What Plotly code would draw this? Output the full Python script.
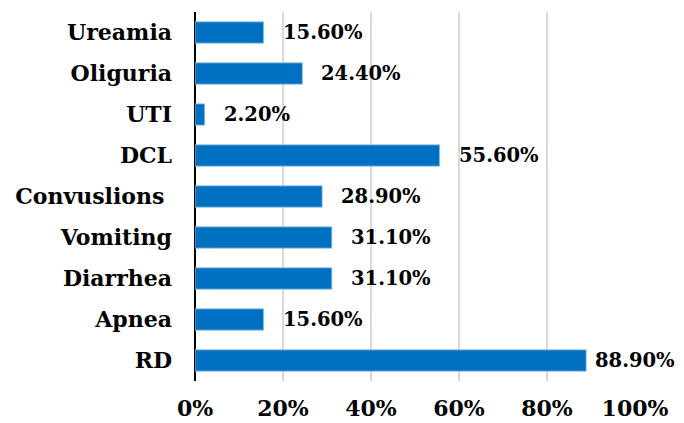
import plotly.graph_objects as go

# Symptoms (top to bottom) and their share of patients
symptoms = ["Ureamia", "Oliguria", "UTI", "DCL", "Convuslions ", "Vomiting", "Diarrhea", "Apnea", "RD"]
shares = [0.156, 0.244, 0.022, 0.556, 0.289, 0.311, 0.311, 0.156, 0.889]
tick_vals = [0, 0.2, 0.4, 0.6, 0.8, 1.0]
tick_text = ["0%", "20%", "40%", "60%", "80%", "100%"]

FONT = "DejaVu Serif"

fig = go.Figure()
fig.add_trace(go.Bar(
    x=shares, y=symptoms, orientation="h",
    marker=dict(color="#0070C0", line=dict(color="#9DC3E6", width=0.8)),
    width=0.52,
))

# value labels to the right of each bar (long bar label sits closer so it fits)
for s, v in zip(symptoms, shares):
    fig.add_annotation(x=v, y=s, text=f"{v * 100:.2f}%", showarrow=False,
                       xanchor="left", xshift=7 if v > 0.8 else 17,
                       font=dict(family=FONT, size=19.5, color="black", weight="bold"))

fig.update_layout(
    width=684, height=423,
    margin=dict(l=195, r=49, t=12, b=42),
    plot_bgcolor="white", paper_bgcolor="white",
    showlegend=False,
    font=dict(family=FONT, size=22, color="black", weight="bold"),
)
fig.update_xaxes(range=[0, 1], tickvals=tick_vals, ticktext=tick_text,
                 showgrid=True, gridcolor="#D9D9D9", gridwidth=1.5,
                 zeroline=True, zerolinecolor="black", zerolinewidth=2,
                 showline=False, ticklabelstandoff=12, automargin=False)
fig.update_yaxes(autorange="reversed", showgrid=False, ticklabelstandoff=22, automargin=False)

fig.write_html("out.html", config={"displayModeBar": False},
               post_script="document.body.style.margin='0';")
